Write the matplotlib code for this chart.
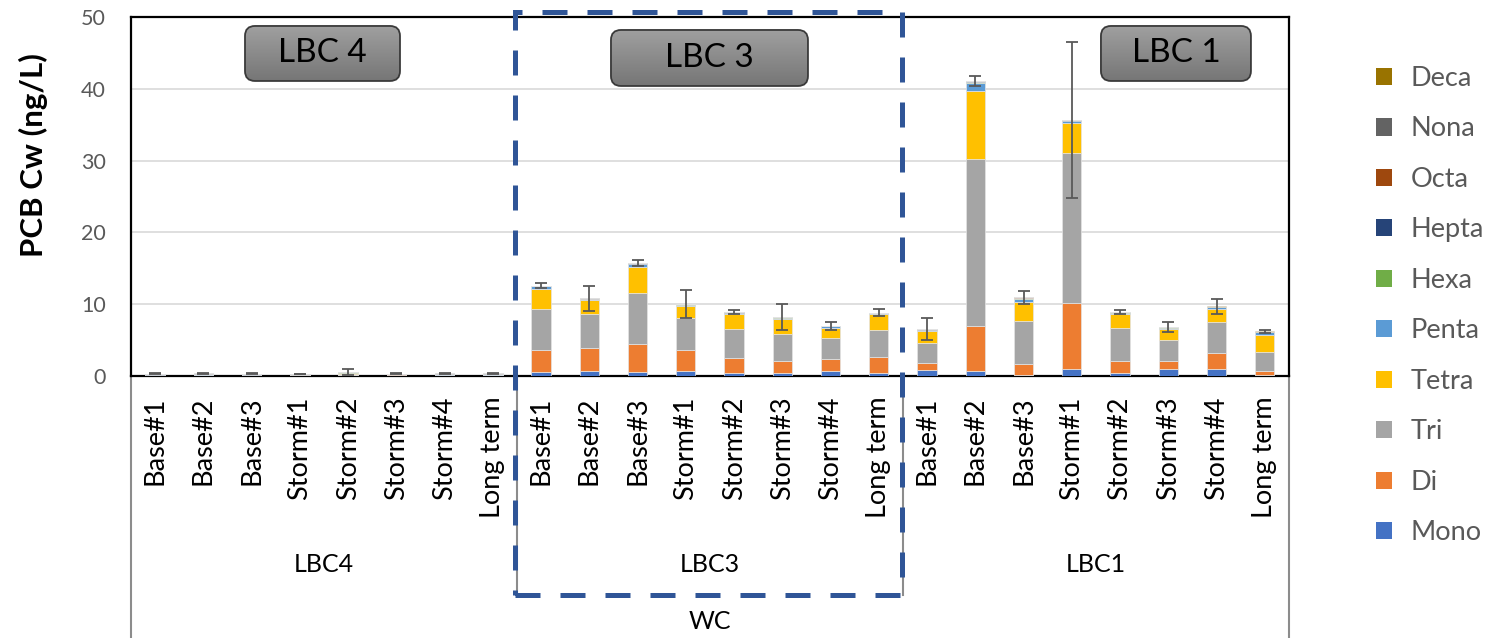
import numpy as np
import matplotlib
matplotlib.use("Agg")
import matplotlib.pyplot as plt
from matplotlib.patches import Patch, Rectangle, FancyBboxPatch
from matplotlib.transforms import blended_transform_factory

plt.rcParams['font.family'] = ['Lato', 'DejaVu Sans']

# --- data (ng/L) -------------------------------------------------------------
SITES = ["LBC4", "LBC3", "LBC1"]
EVENTS = ["Base#1", "Base#2", "Base#3", "Storm#1", "Storm#2", "Storm#3", "Storm#4", "Long term"]
HOMOLOGS = ["Mono", "Di", "Tri", "Tetra", "Penta", "Hexa", "Hepta", "Octa", "Nona", "Deca"]
COLORS = ["#4472C4", "#ED7D31", "#A5A5A5", "#FFC000", "#5B9BD5",
          "#70AD47", "#264478", "#9E480E", "#636363", "#997300"]

#          ---------------- LBC4 ----------------   ---------------- LBC3 ----------------   ---------------- LBC1 ----------------
mono  = [0.03, 0.03, 0.02, 0.02, 0.12, 0.02, 0.03, 0.02,  0.50, 0.65, 0.60, 0.65, 0.37, 0.37, 0.75, 0.46,  0.84, 0.74, 0.10, 1.00, 0.37, 0.93, 0.93, 0.15]
di    = [0.02, 0.03, 0.02, 0.02, 0.08, 0.02, 0.03, 0.03,  3.10, 3.20, 3.80, 2.95, 2.08, 1.73, 1.65, 2.14,  0.92, 6.16, 1.60, 9.20, 1.73, 1.17, 2.22, 0.50]
tri   = [0.05, 0.08, 0.06, 0.05, 0.12, 0.06, 0.08, 0.10,  5.70, 4.85, 7.10, 4.50, 4.15, 3.80, 2.90, 3.80,  2.79, 23.3, 5.90, 20.8, 4.60, 2.90, 4.35, 2.65]
tetra = [0.04, 0.04, 0.05, 0.04, 0.10, 0.04, 0.04, 0.05,  2.80, 1.90, 3.70, 1.70, 2.00, 2.10, 1.40, 2.20,  1.65, 9.50, 2.75, 4.30, 1.90, 1.55, 1.80, 2.45]
penta = [0.03, 0.03, 0.03, 0.02, 0.04, 0.02, 0.03, 0.03,  0.40, 0.12, 0.40, 0.12, 0.20, 0.12, 0.20, 0.12,  0.22, 1.10, 0.40, 0.22, 0.22, 0.18, 0.28, 0.35]
hexa  = [0.02, 0.03, 0.02, 0.02, 0.03, 0.02, 0.03, 0.02,  0.05, 0.04, 0.05, 0.04, 0.04, 0.04, 0.04, 0.04,  0.04, 0.20, 0.15, 0.05, 0.04, 0.04, 0.05, 0.05]
hepta = [0.02, 0.02, 0.02, 0.02, 0.02, 0.02, 0.02, 0.02,  0.02, 0.02, 0.02, 0.02, 0.02, 0.02, 0.02, 0.02,  0.02, 0.04, 0.02, 0.02, 0.02, 0.02, 0.02, 0.02]
octa  = [0.01, 0.01, 0.01, 0.01, 0.01, 0.01, 0.01, 0.01,  0.01, 0.01, 0.01, 0.01, 0.01, 0.01, 0.01, 0.01,  0.01, 0.02, 0.01, 0.01, 0.01, 0.01, 0.01, 0.01]
nona  = [0.08, 0.10, 0.09, 0.08, 0.06, 0.10, 0.10, 0.09,  0.01, 0.01, 0.01, 0.01, 0.01, 0.01, 0.01, 0.01,  0.01, 0.02, 0.01, 0.01, 0.01, 0.01, 0.01, 0.01]
deca  = [0.01, 0.01, 0.01, 0.01, 0.01, 0.01, 0.01, 0.01,  0.01, 0.01, 0.01, 0.01, 0.01, 0.01, 0.01, 0.01,  0.01, 0.02, 0.01, 0.01, 0.01, 0.01, 0.01, 0.01]
err   = [0.05, 0.05, 0.05, 0.03, 0.40, 0.04, 0.05, 0.05,  0.35, 1.70, 0.40, 1.90, 0.25, 1.75, 0.55, 0.50,  1.55, 0.65, 0.90, 10.85, 0.25, 0.65, 1.10, 0.15]

BOX_LABELS = ["LBC 4", "LBC 3", "LBC 1"]

layers = [mono, di, tri, tetra, penta, hexa, hepta, octa, nona, deca]
labels = EVENTS * len(SITES)
x = np.arange(len(labels))

fig = plt.figure(figsize=(14.87, 6.38), dpi=100)
ax = fig.add_axes([0.0881, 0.4107, 0.7787, 0.5627])

bottom = np.zeros(len(x))
handles = []
for name, vals, col in zip(HOMOLOGS, layers, COLORS):
    ax.bar(x, vals, 0.4, bottom=bottom, color=col, edgecolor="#e4e4e4",
           linewidth=0.5, zorder=3)
    bottom += np.asarray(vals)
    handles.append(Patch(facecolor=col, label=name))

ax.errorbar(x, bottom, yerr=err, fmt="none", ecolor="#595959",
            elinewidth=1.3, capsize=4, capthick=1.3, zorder=4)

ax.set_xlim(-0.5, len(x) - 0.5)
ax.set_ylim(0, 50)
ax.set_yticks(range(0, 51, 10))
ax.grid(axis="y", color="#d9d9d9", lw=1.2, zorder=0)
ax.tick_params(axis="y", length=0, pad=18, labelsize=15.5, labelcolor="#595959")
ax.set_xticks(x)
ax.set_xticklabels(labels, rotation=90, fontsize=19.5)
ax.tick_params(axis="x", length=0, pad=15)
for s in ax.spines.values():
    s.set_color("black")
    s.set_linewidth(1.6)

# y axis title placed directly in figure pixels
fig.text(33 / 1487, 1 - 155 / 638, "PCB Cw (ng/L)", rotation=90, ha="center",
         va="center", fontsize=22.5, fontweight="bold")

# multi-level category axis below the plot
bt = blended_transform_factory(ax.transData, ax.transAxes)
for xb, yb in [(-0.5, -0.73), (7.5, -0.61), (15.5, -0.61), (23.5, -0.73)]:
    ax.plot([xb, xb], [0, yb], color="#8c8c8c", lw=1.5, transform=bt, clip_on=False)
for i, site in enumerate(SITES):
    ax.text(i * 8 + 3.5, -0.526, site, transform=bt, ha="center", va="center", fontsize=18)
ax.text(11.5, -0.685, "WC", transform=bt, ha="center", va="center", fontsize=18)

# dashed frame around LBC3
ax.add_patch(Rectangle((7.45, -0.61), 15.47 - 7.45, 1.014 + 0.61, transform=bt,
                       fill=False, edgecolor="#2F5597", lw=3.6,
                       linestyle=(0, (5, 4)), clip_on=False, zorder=6))

# grey gradient site boxes (axes fractions)
W, H = 1158.0, 359.0
boxes = [(245, 26, 400, 81), (611, 30, 808, 86), (1101, 26, 1251, 81)]
grad = np.linspace(0, 1, 64).reshape(-1, 1)
for (x0, y0, x1, y1), txt in zip(boxes, BOX_LABELS):
    bx, by = (x0 - 131) / W, (376 - y1) / H
    bw, bh = (x1 - x0) / W, (y1 - y0) / H
    p = FancyBboxPatch((bx, by), bw, bh, boxstyle=f"round,pad=0,rounding_size={10 / W}",
                       mutation_aspect=W / H, transform=ax.transAxes,
                       facecolor="none", edgecolor="#3a3a3a", lw=1.3, zorder=7)
    ax.add_patch(p)
    im = ax.imshow(grad, cmap=matplotlib.colors.LinearSegmentedColormap.from_list(
        "g", ["#a0a0a0", "#767676"]), extent=(bx, bx + bw, by, by + bh),
        transform=ax.transAxes, aspect="auto", zorder=6, interpolation="bicubic")
    im.set_clip_path(p)
    ax.text(bx + bw / 2, by + bh / 2, txt, transform=ax.transAxes, ha="center",
            va="center", fontsize=24, zorder=8)

ax.set_xlim(-0.5, len(x) - 0.5)
ax.set_ylim(0, 50)

fig.legend(handles[::-1], HOMOLOGS[::-1], loc="upper left",
           bbox_to_anchor=(1376 / 1487, 1 - 66 / 638), frameon=False,
           fontsize=19.5, handlelength=0.6, handleheight=0.6, handletextpad=0.68,
           labelspacing=0.94, borderpad=0, borderaxespad=0, labelcolor="#595959")

fig.savefig("out.png", dpi=100)
